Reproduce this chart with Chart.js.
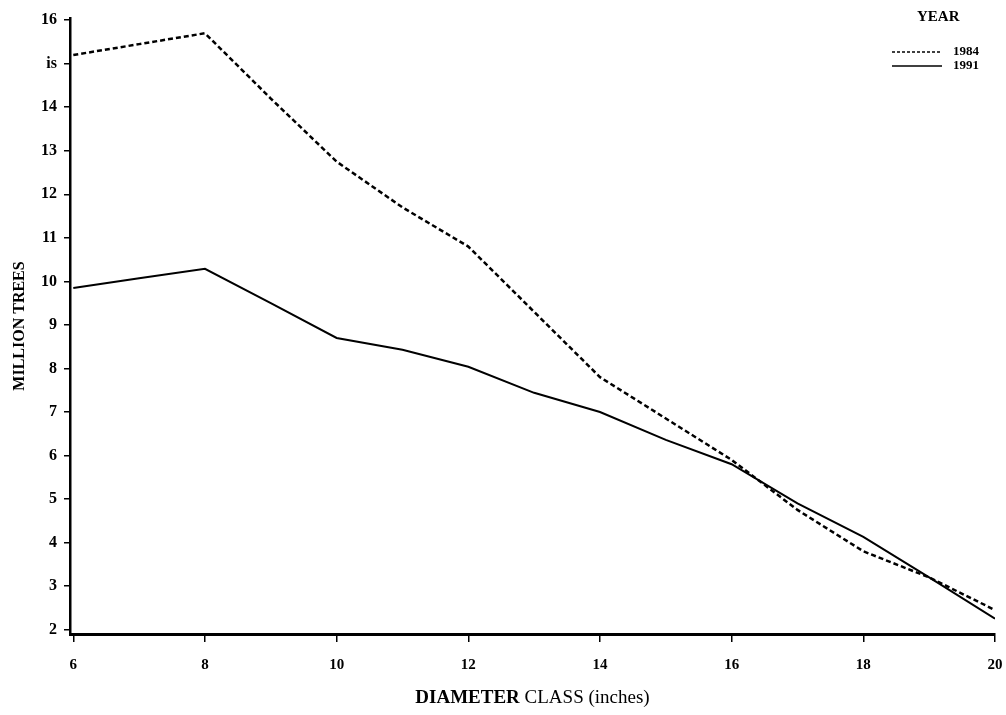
<!DOCTYPE html>
<html>
<head>
<meta charset="utf-8">
<title>Million trees by diameter class</title>
<script src="https://cdn.jsdelivr.net/npm/chart.js@4/dist/chart.umd.min.js"></script>
<style>
    body { margin: 0; background: #fff; }
    #graficoArvores { width: 1006px; height: 715px; position: relative; }
</style>
</head>
<body>
<div id="graficoArvores"><canvas id="graficoCanvas"></canvas></div>
<script>
// Diameter classes (inches)
const classesDiametro = [6, 7, 8, 9, 10, 11, 12, 13, 14, 15, 16, 17, 18, 19, 20];

// Million trees per year
const arvores1984 = [15.2, 15.45, 15.7, 14.2, 12.75, 11.7, 10.8, 9.3, 7.8, 6.85, 5.9, 4.75, 3.8, 3.2, 2.45];
const arvores1991 = [9.85, 10.07, 10.29, 9.5, 8.7, 8.43, 8.04, 7.44, 7.0, 6.36, 5.8, 4.9, 4.13, 3.2, 2.25];

// Tick labels as printed on the scan
const ticksY = [2, 3, 4, 5, 6, 7, 8, 9, 10, 11, 12, 13, 14, 15, 16];
const rotulosY = ['2', '3', '4', '5', '6', '7', '8', '9', '10', '11', '12', '13', '14', 'is', '16'];
const ticksX = [6, 8, 10, 12, 14, 16, 18, 20];

const fonteSerif = "'Liberation Serif', 'DejaVu Serif', serif";

// Draws the x title (mixed bold / regular) and the legend box
const extrasPlugin = {
    id: 'extras',
    afterDraw(chart) {
        const ctx = chart.ctx;
        const area = chart.chartArea;
        ctx.save();
        ctx.fillStyle = '#000';
        ctx.strokeStyle = '#000';

        // x axis title
        const parte1 = 'DIAMETER';
        const parte2 = ' CLASS (inches)';
        ctx.font = 'bold 19px ' + fonteSerif;
        const w1 = ctx.measureText(parte1).width;
        ctx.font = '19px ' + fonteSerif;
        const w2 = ctx.measureText(parte2).width;
        let x = (area.left + area.right) / 2 - (w1 + w2) / 2;
        ctx.textBaseline = 'middle';
        ctx.textAlign = 'left';
        ctx.font = 'bold 19px ' + fonteSerif;
        ctx.fillText(parte1, x, 698);
        ctx.font = '19px ' + fonteSerif;
        ctx.fillText(parte2, x + w1, 698);

        // legend
        ctx.font = 'bold 15px ' + fonteSerif;
        ctx.fillText('YEAR', 917, 17);
        ctx.font = 'bold 13px ' + fonteSerif;
        const itens = [
            { texto: '1984', y: 52, dash: [3, 2] },
            { texto: '1991', y: 66, dash: [] }
        ];
        itens.forEach(item => {
            ctx.beginPath();
            ctx.setLineDash(item.dash);
            ctx.lineWidth = 1.5;
            ctx.moveTo(892, item.y);
            ctx.lineTo(942, item.y);
            ctx.stroke();
            ctx.fillText(item.texto, 953, item.y);
        });
        ctx.restore();
    }
};

function criarGrafico() {
    const ctx = document.getElementById('graficoCanvas').getContext('2d');

    const dados = {
        labels: classesDiametro,
        datasets: [
            {
                label: '1984',
                data: classesDiametro.map((c, i) => ({ x: c, y: arvores1984[i] })),
                borderColor: '#000',
                borderWidth: 2.5,
                borderDash: [5, 3],
                pointRadius: 0,
                tension: 0,
                fill: false
            },
            {
                label: '1991',
                data: classesDiametro.map((c, i) => ({ x: c, y: arvores1991[i] })),
                borderColor: '#000',
                borderWidth: 2,
                pointRadius: 0,
                tension: 0,
                fill: false
            }
        ]
    };

    new Chart(ctx, {
        type: 'line',
        data: dados,
        plugins: [extrasPlugin],
        options: {
            responsive: true,
            maintainAspectRatio: false,
            animation: false,
            layout: { padding: { top: 18, right: 11, left: 10, bottom: 0 } },
            plugins: {
                legend: { display: false },
                tooltip: { enabled: false }
            },
            scales: {
                x: {
                    type: 'linear',
                    min: 5.95,
                    max: 20,
                    afterBuildTicks: scale => { scale.ticks = ticksX.map(v => ({ value: v })); },
                    afterFit: scale => {
                        scale.height = 81;
                        scale.paddingLeft = 0;
                        scale.paddingRight = 0;
                    },
                    border: { display: true, color: '#000', width: 3 },
                    grid: { display: true, drawOnChartArea: false, drawTicks: true, tickLength: 8, color: '#000', lineWidth: 1.5 },
                    ticks: {
                        color: '#000',
                        padding: 14,
                        maxRotation: 0,
                        font: { family: fonteSerif, size: 15, weight: 'bold' },
                        callback: v => String(v)
                    }
                },
                y: {
                    type: 'linear',
                    min: 1.9,
                    max: 16.05,
                    afterBuildTicks: scale => { scale.ticks = ticksY.map(v => ({ value: v })); },
                    afterFit: scale => { scale.width = 60; },
                    border: { display: true, color: '#000', width: 2.5 },
                    grid: { display: true, drawOnChartArea: false, drawTicks: true, tickLength: 6, color: '#000', lineWidth: 1.5 },
                    title: {
                        display: true,
                        text: 'MILLION TREES',
                        color: '#000',
                        padding: { top: 0, bottom: 6 },
                        font: { family: fonteSerif, size: 16, weight: 'bold' }
                    },
                    ticks: {
                        color: '#000',
                        padding: 7,
                        font: { family: fonteSerif, size: 16, weight: 'bold' },
                        callback: v => rotulosY[ticksY.indexOf(v)]
                    }
                }
            }
        }
    });
}

criarGrafico();
</script>
</body>
</html>
